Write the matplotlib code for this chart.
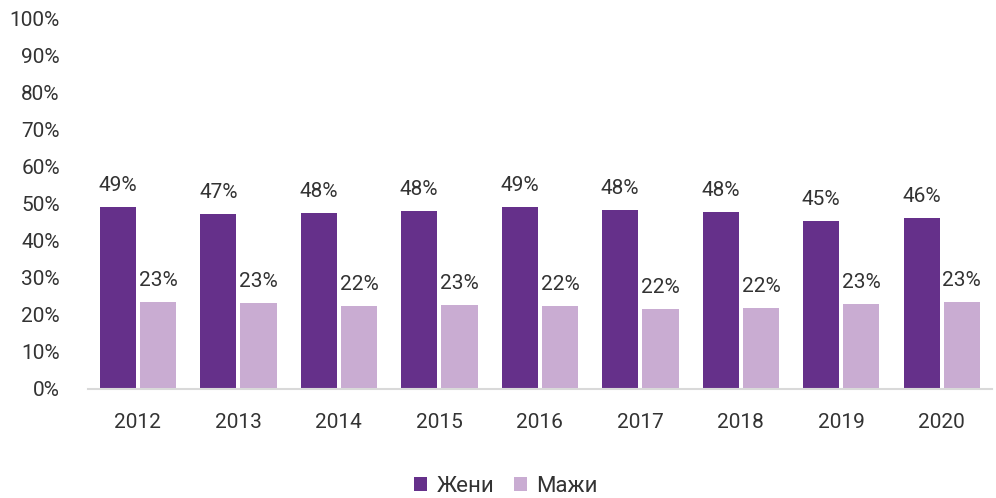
import numpy as np
import matplotlib
matplotlib.use('Agg')
import matplotlib.pyplot as plt
from matplotlib.ticker import PercentFormatter

plt.rcParams['font.family'] = ['Roboto', 'DejaVu Sans']

years = ['2012', '2013', '2014', '2015', '2016', '2017', '2018', '2019', '2020']
zheni = [49.2, 47.3, 47.6, 48.1, 49.2, 48.4, 47.8, 45.4, 46.2]
mazhi = [23.4, 23.2, 22.4, 22.7, 22.4, 21.6, 21.9, 23.0, 23.4]

c_zheni = '#65308a'
c_mazhi = '#c9acd2'
txt = '#333333'

fig = plt.figure(figsize=(9.96, 4.98), dpi=100)
ax = fig.add_axes([0.088, 0.219, 0.908, 0.743])

x = np.arange(len(years))
w = 0.36
gap = 0.04
b1 = ax.bar(x - (w + gap) / 2, zheni, w, color=c_zheni, label='Жени')
b2 = ax.bar(x + (w + gap) / 2, mazhi, w, color=c_mazhi, label='Мажи')

for bars, vals in ((b1, zheni), (b2, mazhi)):
    for r, v in zip(bars, vals):
        ax.text(r.get_x() + r.get_width() / 2, v + 3.3, f'{round(v):.0f}%',
                ha='center', va='bottom', fontsize=15, color=txt)

ax.set_ylim(0, 100)
ax.set_xlim(-0.5, len(years) - 0.5)
ax.set_yticks(range(0, 101, 10))
ax.yaxis.set_major_formatter(PercentFormatter(decimals=0))
ax.set_xticks(x)
ax.set_xticklabels(years)
ax.tick_params(axis='both', length=0, labelsize=15, labelcolor=txt)
ax.tick_params(axis='x', pad=17)
ax.tick_params(axis='y', pad=20)

for s in ('top', 'right', 'left'):
    ax.spines[s].set_visible(False)
ax.spines['bottom'].set_color('#d9d9d9')
ax.spines['bottom'].set_linewidth(1.5)

fig.legend(loc='lower center', bbox_to_anchor=(0.508, -0.038), ncol=2, frameon=False,
           fontsize=16, handlelength=0.6, handleheight=0.6, handletextpad=0.4,
           columnspacing=0.9, labelcolor=txt)

fig.savefig('out.png', dpi=100)
